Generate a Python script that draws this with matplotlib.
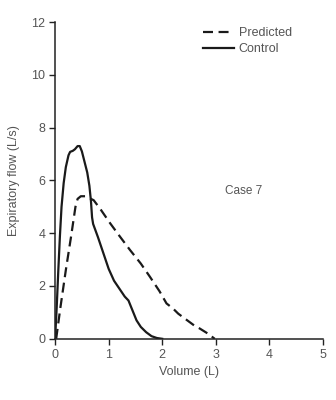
import matplotlib.pyplot as plt

plt.rcParams['font.family'] = ['Liberation Sans', 'DejaVu Sans']

# Control flow-volume loop (solid)
control_vol = [0.0, 0.03, 0.06, 0.09, 0.12, 0.16, 0.2, 0.25, 0.28, 0.33, 0.37, 0.42, 0.46,
               0.5, 0.55, 0.6, 0.64, 0.67, 0.69, 0.71, 0.8, 0.9, 1.0, 1.1, 1.2, 1.3,
               1.37, 1.45, 1.52, 1.6, 1.7, 1.8, 1.9, 2.0]
control_flow = [0.0, 1.2, 2.6, 3.9, 5.0, 5.9, 6.5, 6.95, 7.08, 7.12, 7.18, 7.3, 7.3,
                7.1, 6.7, 6.3, 5.8, 5.2, 4.6, 4.35, 3.85, 3.25, 2.65, 2.2, 1.9, 1.6,
                1.45, 1.05, 0.7, 0.45, 0.25, 0.1, 0.03, 0.0]

# Predicted (dashed)
pred_vol = [0.02, 0.1, 0.2, 0.3, 0.38, 0.42, 0.48, 0.56, 0.64, 0.72, 0.85, 1.03, 1.2,
            1.4, 1.6, 1.77, 1.95, 2.08, 2.2, 2.3, 2.46, 2.6, 2.7, 2.85, 2.98]
pred_flow = [0.0, 1.2, 2.6, 3.9, 5.0, 5.3, 5.4, 5.4, 5.33, 5.25, 4.9, 4.37, 3.9,
             3.36, 2.85, 2.35, 1.8, 1.34, 1.15, 0.95, 0.71, 0.5, 0.39, 0.2, 0.0]

fig = plt.figure(figsize=(3.36, 4.0), dpi=100)
ax = fig.add_axes([0.164, 0.153, 0.797, 0.792])

ax.plot(pred_vol, pred_flow, color='#1a1a1a', lw=1.6, ls=(0, (4.5, 2.5)), label='Predicted')
ax.plot(control_vol, control_flow, color='#1a1a1a', lw=1.6, label='Control')

ax.set_xlim(0, 5)
ax.set_ylim(0, 12)
ax.set_xticks(range(0, 6))
ax.set_yticks(range(0, 13, 2))
for s in ['top', 'right']:
    ax.spines[s].set_visible(False)
for s in ['left', 'bottom']:
    ax.spines[s].set_linewidth(1.1)
    ax.spines[s].set_color('#222222')
ax.tick_params(direction='out', length=4.5, width=1, color='#222222',
               labelsize=9, labelcolor='#555555', pad=2.5)

ax.set_xlabel('Volume (L)', fontsize=9, color='#555555', labelpad=4)
ax.set_ylabel('Expiratory flow (L/s)', fontsize=9, color='#555555', labelpad=8)

ax.text(3.17, 5.6, 'Case 7', fontsize=8.5, color='#555555', va='center')

ax.legend(loc='upper left', bbox_to_anchor=(0.511, 1.019), frameon=False, fontsize=9,
          handlelength=2.5, handletextpad=0.35, labelspacing=0.3, labelcolor='#555555')

fig.savefig('out.png', dpi=100)
